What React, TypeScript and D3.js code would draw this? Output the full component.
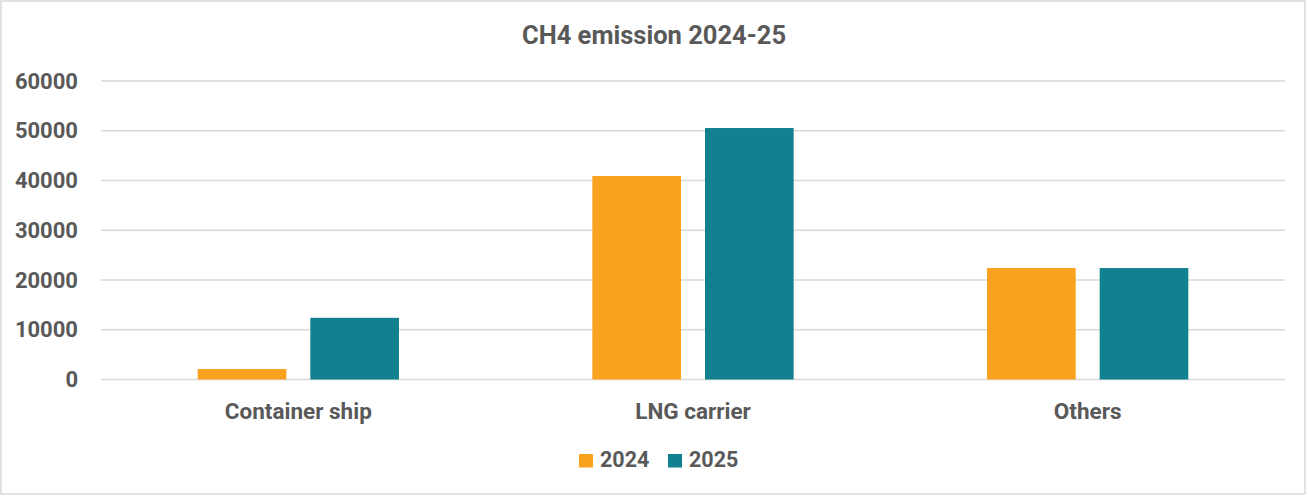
import React from "react";
import * as d3 from "d3";

const categories = ["Container ship", "LNG carrier", "Others"];
const seriesNames = ["2024", "2025"];
const values2024 = [2100, 40900, 22400];
const values2025 = [12400, 50550, 22400];
const yTicks = [0, 10000, 20000, 30000, 40000, 50000, 60000];
const title = "CH4 emission 2024-25";

const colors = ["#FAA11E", "#12818F"];
const W = 1309;
const H = 496;
const FONT = "Roboto, 'Noto Sans', sans-serif";
const TEXT = "#595959";

export default function App() {
  const left = 101;
  const right = 1285;
  const y = d3.scaleLinear().domain([0, 60000]).range([379.5, 81]);
  const x0 = d3
    .scaleBand<string>()
    .domain(categories)
    .range([left, right])
    .paddingInner(0.49)
    .paddingOuter(0.245);
  const x1 = d3
    .scaleBand<string>()
    .domain(seriesNames)
    .range([0, x0.bandwidth()])
    .paddingInner(0.213)
    .paddingOuter(0);
  const series = [values2024, values2025];

  return (
    <svg
      width={W}
      height={H}
      style={{ position: "absolute", left: 0, top: 0, background: "#fff" }}
      fontFamily={FONT}
    >
      <rect x={1} y={1} width={1304} height={493} fill="#fff" stroke="#d9d9d9" strokeWidth={1.5} />
      <text x={654} y={43.5} textAnchor="middle" fontSize={25.5} fontWeight={700} fill={TEXT}>
        {title}
      </text>
      {yTicks.map((t) => (
        <g key={t}>
          <line x1={left} x2={right} y1={y(t)} y2={y(t)} stroke="#d9d9d9" strokeWidth={1.5} />
          <text x={78} y={y(t) + 7.5} textAnchor="end" fontSize={22} fontWeight={700} fill={TEXT}>
            {t}
          </text>
        </g>
      ))}
      {categories.map((c, ci) => (
        <g key={c} transform={`translate(${x0(c)},0)`}>
          {seriesNames.map((s, si) => (
            <rect
              key={s}
              x={x1(s)}
              y={y(series[si][ci])}
              width={x1.bandwidth()}
              height={y(0) - y(series[si][ci])}
              fill={colors[si]}
            />
          ))}
          <text
            x={x0.bandwidth() / 2}
            y={419}
            textAnchor="middle"
            fontSize={22.5}
            fontWeight={700}
            fill={TEXT}
          >
            {c}
          </text>
        </g>
      ))}
      {seriesNames.map((s, si) => {
        const lx = 579 + si * 89;
        return (
          <g key={s}>
            <rect x={lx} y={454} width={14} height={13.5} fill={colors[si]} />
            <text x={lx + 21} y={467} fontSize={21.5} fontWeight={700} fill={TEXT}>
              {s}
            </text>
          </g>
        );
      })}
    </svg>
  );
}
